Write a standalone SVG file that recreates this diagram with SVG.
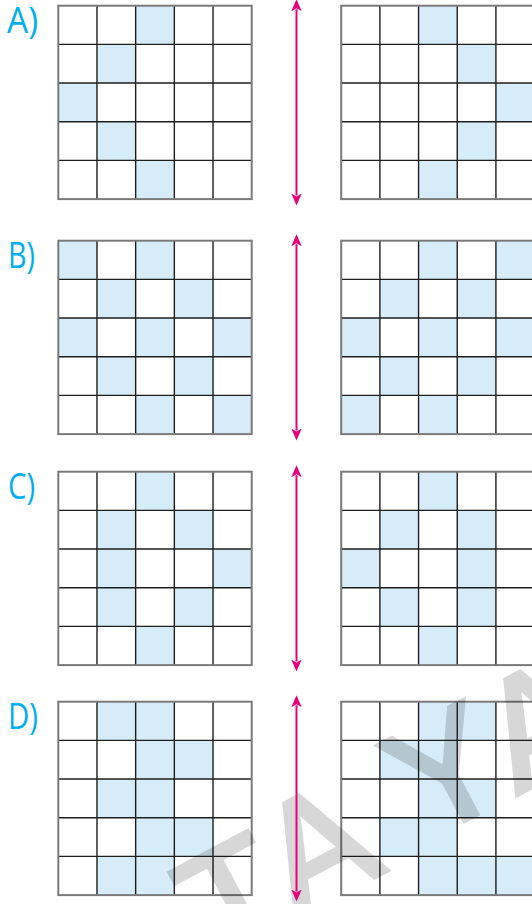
<svg xmlns="http://www.w3.org/2000/svg" xmlns:xlink="http://www.w3.org/1999/xlink" width="532" height="904" viewBox="0 0 532 904">
<style>
.bg{fill:#ffffff}
.cell{fill:#d6ecf8}
.inner{stroke:#1e1e1e;stroke-width:1.4;fill:none}
.outer{stroke:#7a7a7a;stroke-width:2;fill:none}
.lbl{font-family:"Open Sans","Liberation Sans",sans-serif;font-size:36px;fill:#00aeef}
.wm{font-family:"Liberation Sans",Arial,sans-serif;font-size:156px;fill:#000000;stroke:#000000;stroke-width:4.5;stroke-linejoin:miter}
.arrow{stroke:#e5007d;stroke-width:2;fill:none}
</style>
<defs>
<g id="gridlines">
<path class="inner" d="M38.68,0V193.4M77.36,0V193.4M116.04,0V193.4M154.72,0V193.4M0,38.68H193.4M0,77.36H193.4M0,116.04H193.4M0,154.72H193.4"/>
<rect class="outer" x="0" y="0" width="193.4" height="193.4"/>
</g>
<marker id="head" markerUnits="userSpaceOnUse" markerWidth="14" markerHeight="12" viewBox="0 -6 14 12" refX="2" refY="0" orient="auto-start-reverse">
<path d="M12,0 L0,-5.2 L3,0 L0,5.2 Z" fill="#e5007d"/>
</marker>
</defs>
<rect class="bg" x="0" y="0" width="532" height="904"/>

<g id="label-A"><text class="lbl" x="7" y="33.3" textLength="31" lengthAdjust="spacingAndGlyphs">A)</text></g>
<g id="label-B"><text class="lbl" x="8" y="267.7" textLength="27" lengthAdjust="spacingAndGlyphs">B)</text></g>
<g id="label-C"><text class="lbl" x="8" y="499" textLength="27" lengthAdjust="spacingAndGlyphs">C)</text></g>
<g id="label-D"><text class="lbl" x="8" y="729.3" textLength="30" lengthAdjust="spacingAndGlyphs">D)</text></g>

<g id="grid-A-left" transform="translate(58.3,5.7)">
<rect class="cell" x="77.36" y="0" width="38.68" height="38.68"/>
<rect class="cell" x="38.68" y="38.68" width="38.68" height="38.68"/>
<rect class="cell" x="0" y="77.36" width="38.68" height="38.68"/>
<rect class="cell" x="38.68" y="116.04" width="38.68" height="38.68"/>
<rect class="cell" x="77.36" y="154.72" width="38.68" height="38.68"/>
<use xlink:href="#gridlines" href="#gridlines"/>
</g>
<g id="grid-A-right" transform="translate(341.2,5.7)">
<rect class="cell" x="77.36" y="0" width="38.68" height="38.68"/>
<rect class="cell" x="116.04" y="38.68" width="38.68" height="38.68"/>
<rect class="cell" x="154.72" y="77.36" width="38.68" height="38.68"/>
<rect class="cell" x="116.04" y="116.04" width="38.68" height="38.68"/>
<rect class="cell" x="77.36" y="154.72" width="38.68" height="38.68"/>
<use xlink:href="#gridlines" href="#gridlines"/>
</g>

<g id="grid-B-left" transform="translate(58.3,240.7)">
<rect class="cell" x="0" y="0" width="38.68" height="38.68"/>
<rect class="cell" x="77.36" y="0" width="38.68" height="38.68"/>
<rect class="cell" x="38.68" y="38.68" width="38.68" height="38.68"/>
<rect class="cell" x="116.04" y="38.68" width="38.68" height="38.68"/>
<rect class="cell" x="0" y="77.36" width="38.68" height="38.68"/>
<rect class="cell" x="77.36" y="77.36" width="38.68" height="38.68"/>
<rect class="cell" x="154.72" y="77.36" width="38.68" height="38.68"/>
<rect class="cell" x="38.68" y="116.04" width="38.68" height="38.68"/>
<rect class="cell" x="116.04" y="116.04" width="38.68" height="38.68"/>
<rect class="cell" x="77.36" y="154.72" width="38.68" height="38.68"/>
<rect class="cell" x="154.72" y="154.72" width="38.68" height="38.68"/>
<use xlink:href="#gridlines" href="#gridlines"/>
</g>
<g id="grid-B-right" transform="translate(341.2,240.7)">
<rect class="cell" x="77.36" y="0" width="38.68" height="38.68"/>
<rect class="cell" x="154.72" y="0" width="38.68" height="38.68"/>
<rect class="cell" x="38.68" y="38.68" width="38.68" height="38.68"/>
<rect class="cell" x="116.04" y="38.68" width="38.68" height="38.68"/>
<rect class="cell" x="0" y="77.36" width="38.68" height="38.68"/>
<rect class="cell" x="77.36" y="77.36" width="38.68" height="38.68"/>
<rect class="cell" x="154.72" y="77.36" width="38.68" height="38.68"/>
<rect class="cell" x="38.68" y="116.04" width="38.68" height="38.68"/>
<rect class="cell" x="116.04" y="116.04" width="38.68" height="38.68"/>
<rect class="cell" x="0" y="154.72" width="38.68" height="38.68"/>
<rect class="cell" x="77.36" y="154.72" width="38.68" height="38.68"/>
<use xlink:href="#gridlines" href="#gridlines"/>
</g>

<g id="grid-C-left" transform="translate(58.3,471.7)">
<rect class="cell" x="77.36" y="0" width="38.68" height="38.68"/>
<rect class="cell" x="38.68" y="38.68" width="38.68" height="38.68"/>
<rect class="cell" x="116.04" y="38.68" width="38.68" height="38.68"/>
<rect class="cell" x="38.68" y="77.36" width="38.68" height="38.68"/>
<rect class="cell" x="154.72" y="77.36" width="38.68" height="38.68"/>
<rect class="cell" x="38.68" y="116.04" width="38.68" height="38.68"/>
<rect class="cell" x="116.04" y="116.04" width="38.68" height="38.68"/>
<rect class="cell" x="77.36" y="154.72" width="38.68" height="38.68"/>
<use xlink:href="#gridlines" href="#gridlines"/>
</g>
<g id="grid-C-right" transform="translate(341.2,471.7)">
<rect class="cell" x="77.36" y="0" width="38.68" height="38.68"/>
<rect class="cell" x="38.68" y="38.68" width="38.68" height="38.68"/>
<rect class="cell" x="116.04" y="38.68" width="38.68" height="38.68"/>
<rect class="cell" x="0" y="77.36" width="38.68" height="38.68"/>
<rect class="cell" x="116.04" y="77.36" width="38.68" height="38.68"/>
<rect class="cell" x="38.68" y="116.04" width="38.68" height="38.68"/>
<rect class="cell" x="116.04" y="116.04" width="38.68" height="38.68"/>
<rect class="cell" x="77.36" y="154.72" width="38.68" height="38.68"/>
<use xlink:href="#gridlines" href="#gridlines"/>
</g>

<g id="grid-D-left" transform="translate(58.3,701.7)">
<rect class="cell" x="38.68" y="0" width="38.68" height="38.68"/>
<rect class="cell" x="77.36" y="0" width="38.68" height="38.68"/>
<rect class="cell" x="77.36" y="38.68" width="38.68" height="38.68"/>
<rect class="cell" x="116.04" y="38.68" width="38.68" height="38.68"/>
<rect class="cell" x="38.68" y="77.36" width="38.68" height="38.68"/>
<rect class="cell" x="77.36" y="77.36" width="38.68" height="38.68"/>
<rect class="cell" x="77.36" y="116.04" width="38.68" height="38.68"/>
<rect class="cell" x="116.04" y="116.04" width="38.68" height="38.68"/>
<rect class="cell" x="38.68" y="154.72" width="38.68" height="38.68"/>
<rect class="cell" x="77.36" y="154.72" width="38.68" height="38.68"/>
<use xlink:href="#gridlines" href="#gridlines"/>
</g>
<g id="grid-D-right" transform="translate(341.2,701.7)">
<rect class="cell" x="77.36" y="0" width="38.68" height="38.68"/>
<rect class="cell" x="116.04" y="0" width="38.68" height="38.68"/>
<rect class="cell" x="38.68" y="38.68" width="38.68" height="38.68"/>
<rect class="cell" x="77.36" y="38.68" width="38.68" height="38.68"/>
<rect class="cell" x="77.36" y="77.36" width="38.68" height="38.68"/>
<rect class="cell" x="116.04" y="77.36" width="38.68" height="38.68"/>
<rect class="cell" x="38.68" y="116.04" width="38.68" height="38.68"/>
<rect class="cell" x="77.36" y="116.04" width="38.68" height="38.68"/>
<rect class="cell" x="77.36" y="154.72" width="38.68" height="38.68"/>
<rect class="cell" x="116.04" y="154.72" width="38.68" height="38.68"/>
<rect class="cell" x="154.72" y="154.72" width="38.68" height="38.68"/>
<use xlink:href="#gridlines" href="#gridlines"/>
</g>

<g id="watermark" opacity="0.16">
<text class="wm" transform="translate(217,969) rotate(-28)">T</text>
<text class="wm" transform="translate(296,919) rotate(-28)">A</text>
<text class="wm" transform="translate(425,842) rotate(-28)">Y</text>
<text class="wm" transform="translate(517,795) rotate(-28)">A</text>
</g>

<g id="connectors">
<line class="arrow" x1="296.5" y1="9.2" x2="296.5" y2="195.5" marker-start="url(#head)" marker-end="url(#head)"/>
<line class="arrow" x1="296.5" y1="244.2" x2="296.5" y2="430.5" marker-start="url(#head)" marker-end="url(#head)"/>
<line class="arrow" x1="296.5" y1="475.2" x2="296.5" y2="661.5" marker-start="url(#head)" marker-end="url(#head)"/>
<line class="arrow" x1="296.5" y1="705.2" x2="296.5" y2="891.5" marker-start="url(#head)" marker-end="url(#head)"/>
</g>
</svg>
